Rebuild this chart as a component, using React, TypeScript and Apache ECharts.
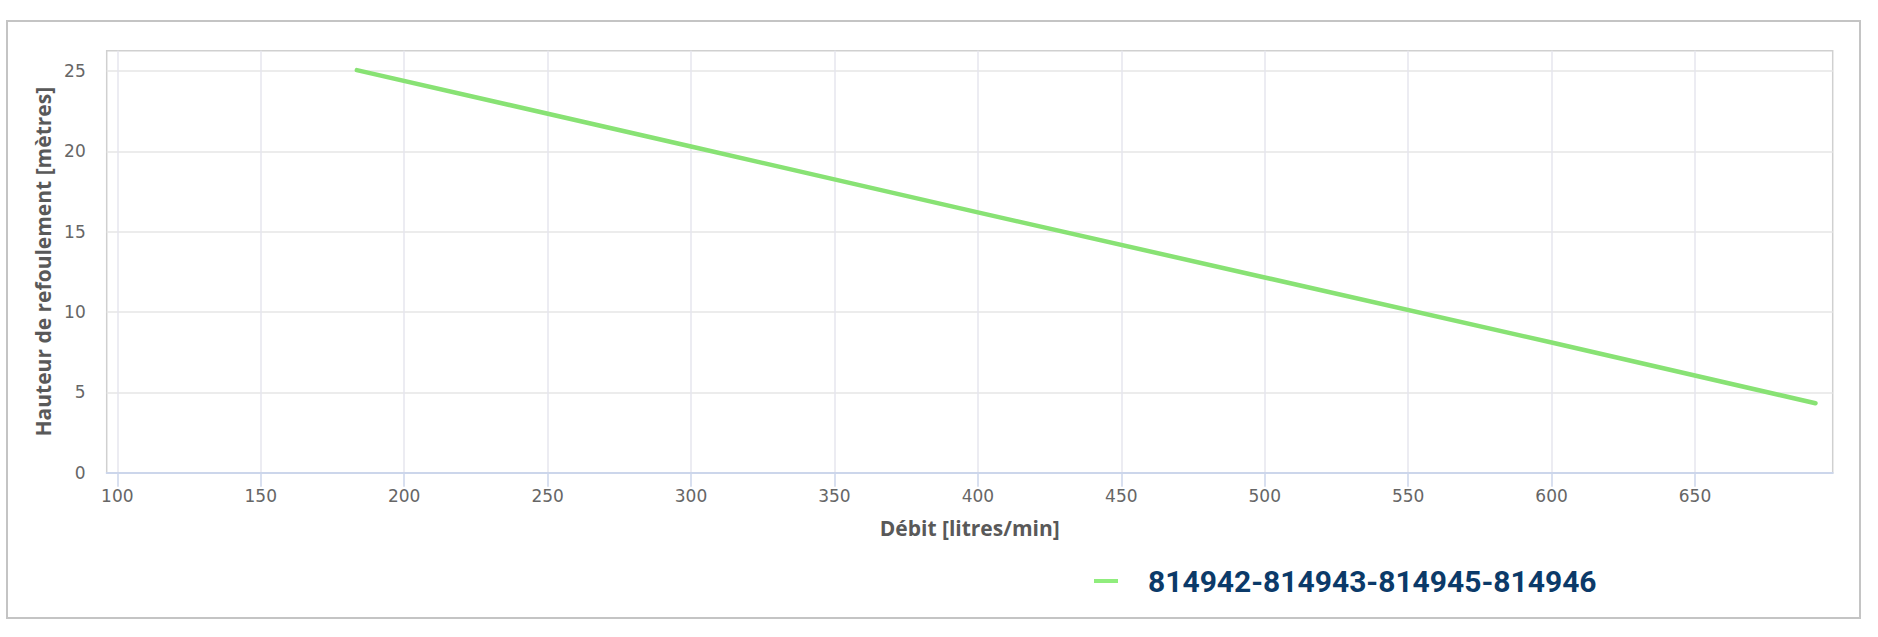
import React, { useEffect, useRef } from "react";
import * as echarts from "echarts";

const seriesName = "814942-814943-814945-814946";
const flowValues = [183.5, 300, 400, 500, 600, 692];
const headValues = [25.05, 20.3, 16.2, 12.15, 8.1, 4.32];
const xTicks = [100, 150, 200, 250, 300, 350, 400, 450, 500, 550, 600, 650];
const yTicks = [0, 5, 10, 15, 20, 25];
const xTitle = "Débit [litres/min]";
const yTitle = "Hauteur de refoulement [mètres]";

export default function App() {
  const ref = useRef<HTMLDivElement>(null);
  useEffect(() => {
    document.body.style.margin = "0";
    if (!ref.current) return;
    const chart = echarts.init(ref.current, undefined, { renderer: "svg" });
    const data = flowValues.map((x, i) => [x, headValues[i]]);
    chart.setOption({
      animation: false,
      backgroundColor: "#ffffff",
      graphic: [
        {
          type: "rect",
          shape: { x: 7, y: 21, width: 1853, height: 597 },
          style: { fill: "none", stroke: "#c4c4c4", lineWidth: 2 },
          silent: true,
          z: -10,
        },
      ],
      grid: {
        left: 106.7,
        top: 50.7,
        right: 45.3,
        bottom: 164.3,
        show: true,
        borderColor: "#d0d0d0",
        borderWidth: 1.5,
        backgroundColor: "transparent",
      },
      legend: {
        left: 1089,
        top: 561,
        icon: "rect",
        itemWidth: 24,
        itemHeight: 4,
        textStyle: {
          fontFamily: "Roboto",
          fontWeight: "bold",
          fontSize: 30,
          color: "#0b3a69",
          padding: [0, 0, 0, 25],
        },
        data: [seriesName],
      },
      xAxis: {
        type: "value",
        min: 96.3,
        max: 698,
        name: xTitle,
        nameLocation: "middle",
        nameGap: 45,
        nameTextStyle: {
          fontFamily: "Open Sans",
          fontWeight: "bold",
          fontSize: 21,
          color: "#595959",
        },
        axisLine: { show: true, lineStyle: { color: "#ccd6eb", width: 2 } },
        axisTick: {
          show: true,
          length: 14,
          lineStyle: { color: "#ccd6eb", width: 1.5 },
          customValues: xTicks,
        },
        axisLabel: {
          customValues: xTicks,
          margin: 15,
          fontFamily: "DejaVu Sans",
          fontSize: 17,
          color: "#666666",
        },
        splitLine: { show: true, lineStyle: { color: "#e6e6ee", width: 1.5 } },
      },
      yAxis: {
        type: "value",
        min: 0,
        max: 26.26,
        name: yTitle,
        nameLocation: "middle",
        nameGap: 51,
        nameTextStyle: {
          fontFamily: "Open Sans",
          fontWeight: "bold",
          fontSize: 21,
          color: "#595959",
        },
        axisLine: { show: false },
        axisTick: { show: false, customValues: yTicks },
        axisLabel: {
          customValues: yTicks,
          margin: 21,
          fontFamily: "DejaVu Sans",
          fontSize: 17,
          color: "#666666",
        },
        splitLine: { show: true, lineStyle: { color: "#e6e6e6", width: 1.5 } },
      },
      series: [
        {
          name: seriesName,
          type: "line",
          data,
          showSymbol: false,
          symbol: "none",
          color: "#90ed7d",
          lineStyle: { color: "#88e274", width: 4.5, cap: "round", join: "round" },
        },
      ],
    });
    return () => chart.dispose();
  }, []);
  return <div ref={ref} style={{ width: 1878, height: 637 }} />;
}
